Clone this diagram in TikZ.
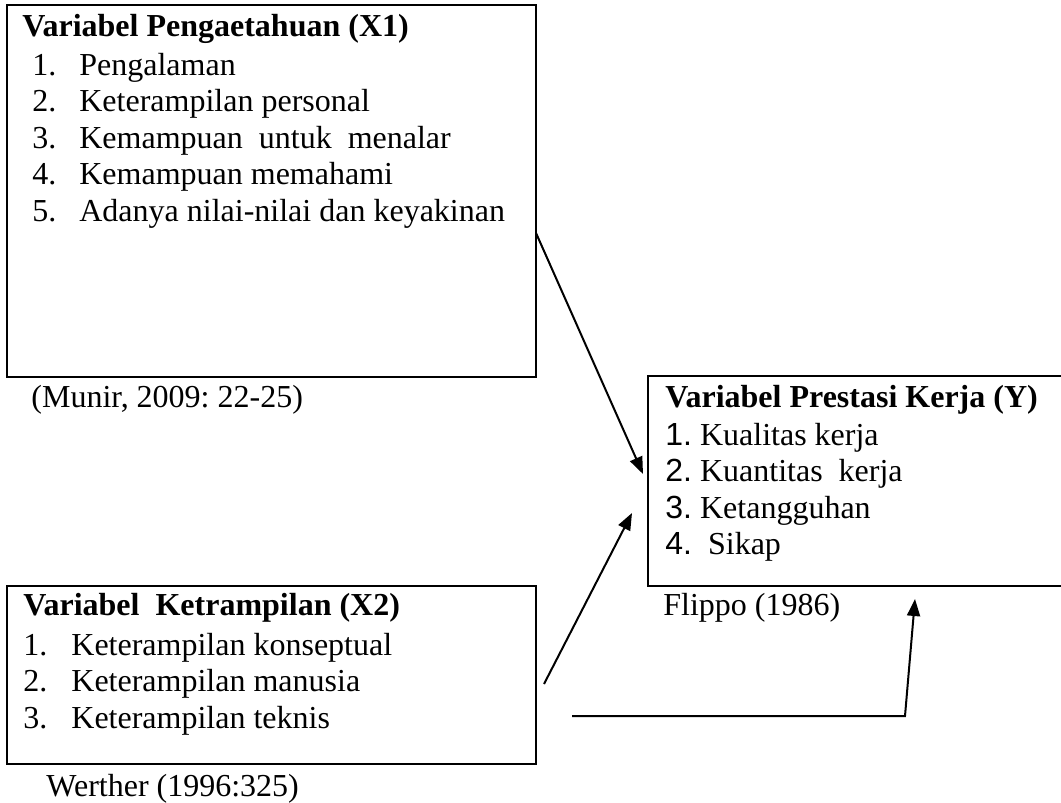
\documentclass[tikz,border=0pt]{standalone}
\usepackage{fontspec}
\setmainfont{Liberation Serif}
\newfontfamily\arialnum{Liberation Sans}
\usetikzlibrary{arrows.meta,positioning,calc}
\frenchspacing
\newcommand{\nomor}[2][23.5pt]{\makebox[#1][l]{#2}}
\newcommand{\angka}[1]{{\arialnum #1}}
\tikzset{
  kotak/.style={rectangle, draw=black, line width=1pt, inner sep=0pt, anchor=north west},
  isi/.style={inner sep=0pt, align=left, font=\fontsize{16}{18.25}\selectfont},
  sumber/.style={inner sep=0pt, font=\fontsize{16}{18.25}\selectfont},
  panah/.style={-{Triangle[length=8.5pt,width=6.5pt]}, line width=1pt},
}
\begin{document}
\begin{tikzpicture}[x=0.5pt,y=-0.5pt]
  \useasboundingbox (0,0) rectangle (1061,803);
  % kotak variabel
  \node[kotak, minimum width=264.5pt, minimum height=186pt] (x1) at (6,4) {};
  \node[kotak, minimum width=264.5pt, minimum height=89pt] (x2) at (6,585) {};
  \node[rectangle, inner sep=0pt, anchor=north west,
        minimum width=206.5pt, minimum height=104.5pt] (y) at (648,376) {};
  \draw[line width=1pt] (y.north east) -- (y.north west) -- (y.south west) -- (y.south east);
  % isi kotak
  \node[isi, below right=5pt and 8pt of x1.north west] (x1isi)
    {\textbf{Variabel Pengaetahuan (X1)}\\[1pt]
     \hspace{5pt}\nomor{1.}Pengalaman\\
     \hspace{5pt}\nomor{2.}Keterampilan personal\\
     \hspace{5pt}\nomor{3.}Kemampuan\ \ untuk\ \ menalar\\
     \hspace{5pt}\nomor{4.}Kemampuan memahami\\
     \hspace{5pt}\nomor{5.}Adanya nilai-nilai dan keyakinan};
  \node[isi, below right=4pt and 8.5pt of x2.north west] (x2isi)
    {\textbf{Variabel\ \ Ketrampilan (X2)}\\[1.5pt]
     \nomor[24pt]{1.}Keterampilan konseptual\\
     \nomor[24pt]{2.}Keterampilan manusia\\
     \nomor[24pt]{3.}Keterampilan teknis};
  \node[isi, below right=4.5pt and 8.5pt of y.north west] (yisi)
    {\textbf{Variabel Prestasi Kerja (Y)}\\[0.5pt]
     \angka{1.} Kualitas kerja\\
     \angka{2.} Kuantitas\ \ kerja\\
     \angka{3.} Ketangguhan\\
     \angka{4.}\ \ Sikap};
  % sumber
  \node[sumber, below right=3.5pt and 12.5pt of x1.south west] (munir) {(Munir, 2009: 22-25)};
  \node[sumber, below right=4.5pt and 20pt of x2.south west] (werther) {Werther (1996:325)};
  \node[sumber, below right=3.5pt and 7.5pt of y.south west] (flippo) {Flippo (1986)};
  % panah
  \coordinate (a1) at (536,233);
  \coordinate (a1t) at (643,474);
  \coordinate (a2) at (544,684);
  \coordinate (a2t) at (632,513);
  \coordinate (a3) at (572,716);
  \coordinate (a3b) at (905,716);
  \coordinate (a3t) at (915,599);
  \draw[panah] (a1) -- (a1t);
  \draw[panah] (a2) -- (a2t);
  \draw[panah] (a3) -- (a3b) -- (a3t);
\end{tikzpicture}
\end{document}
